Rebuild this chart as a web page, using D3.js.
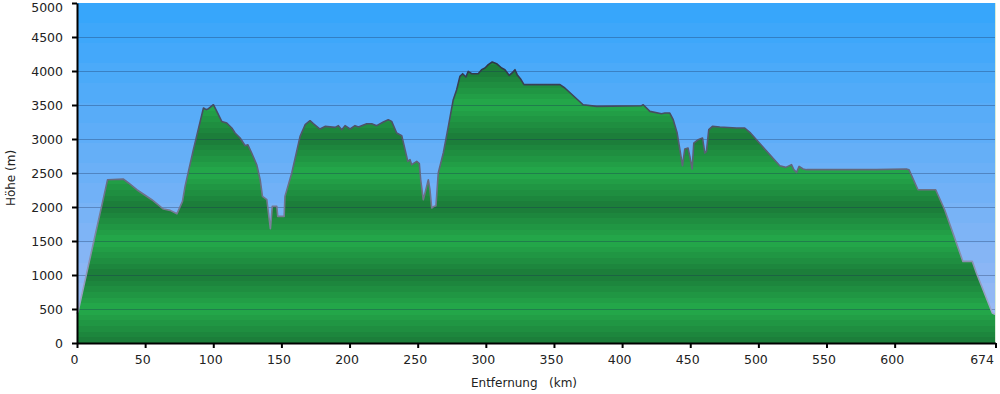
<!DOCTYPE html>
<html>
<head>
<meta charset="utf-8">
<script src="https://cdn.jsdelivr.net/npm/d3@7"></script>
<style>
  body { margin: 0; background: #fff; }
  text { font-family: "DejaVu Sans", Verdana, sans-serif; fill: #222; }
</style>
</head>
<body>
<svg id="chart" width="1000" height="394"></svg>
<script>
// elevation profile: [distance km, height m]
const profile = [
  [0, 430], [1, 480], [22.4, 2400], [34.1, 2410], [37.8, 2353], [43.9, 2254],
  [54.9, 2107], [63.4, 1970], [68.4, 1950], [73.3, 1900], [77.4, 2083], [79.3, 2303],
  [85.4, 2843], [92.8, 3456], [94.7, 3431], [96.5, 3445], [100.1, 3504], [102.6, 3406],
  [106.2, 3259], [109.9, 3235], [113.6, 3162], [116, 3088], [119.7, 3015], [123.4, 2901],
  [125.3, 2916], [128.2, 2794], [131.9, 2622], [134.4, 2401], [136.1, 2156], [139.3, 2107],
  [141.9, 1680], [143.3, 2009], [146.6, 2009], [147.3, 1862], [152, 1862], [152.6, 2156],
  [157.6, 2500], [163.7, 3038], [167.4, 3210], [171, 3269], [173.4, 3225], [178.3, 3147],
  [182, 3185], [189.4, 3171], [191.8, 3196], [194.3, 3137], [196.7, 3196], [200.4, 3147],
  [204, 3196], [206.5, 3176], [212.6, 3225], [216.3, 3225], [219.9, 3196], [224.8, 3250],
  [228.4, 3284], [230.9, 3259], [234.6, 3088], [238.3, 3049], [241.9, 2744], [242.7, 2671],
  [244.4, 2696], [245.6, 2622], [249.3, 2671], [251.2, 2637], [252.2, 2401], [254.1, 2107],
  [255.4, 2206], [257.8, 2401], [259, 2254], [260.3, 1985], [261.9, 2009], [263.4, 2019],
  [265.1, 2500], [268.8, 2794], [272.5, 3185], [276.1, 3578], [278.6, 3725], [281, 3921],
  [283, 3960], [285.4, 3911], [287.1, 3994], [289.6, 3960], [294.4, 3960], [296.9, 4019],
  [299.4, 4044], [301.8, 4093], [304.7, 4132], [307.9, 4107], [311.6, 4044], [314, 4019],
  [317.2, 3935], [319.7, 3980], [321.4, 4019], [323, 3946], [325.5, 3882], [328, 3799],
  [354.4, 3799], [358, 3750], [371.4, 3504], [381.3, 3480], [414.3, 3490], [415.5, 3504],
  [420.4, 3406], [428.9, 3372], [431.4, 3382], [435, 3382], [437.5, 3284], [440.4, 3088],
  [442.4, 2843], [444.3, 2607], [446, 2853], [448.4, 2867], [449.7, 2744], [451.4, 2559],
  [452.6, 2941], [455.8, 2990], [459, 3015], [460.7, 2794], [461.9, 2818], [463.6, 3137],
  [466.3, 3185], [471.7, 3176], [483.9, 3162], [490, 3162], [493.7, 3098], [515.7, 2607],
  [520.1, 2583], [524.3, 2622], [526, 2549], [528, 2509], [529.9, 2597], [532.8, 2559],
  [535.3, 2549], [559.7, 2549], [586.6, 2549], [608.6, 2559], [610.5, 2549], [617.1, 2254],
  [630.1, 2254], [636.7, 1960], [650.1, 1200], [657, 1200], [660, 1029], [671.7, 441],
  [674, 420]
];
const xTicks = [0, 50, 100, 150, 200, 250, 300, 350, 400, 450, 500, 550, 600, 674];
const yTicks = [0, 500, 1000, 1500, 2000, 2500, 3000, 3500, 4000, 4500, 5000];
const xTitle = "Entfernung   (km)";
const yTitle = "Höhe (m)";

const svg = d3.select("#chart");
const plotLeft = 77, plotRight = 995.5, plotTop = 3, plotBottom = 343;

const x = d3.scaleLinear().domain([0, 674]).range([plotLeft, plotRight]);
const y = d3.scaleLinear().domain([0, 5000]).range([plotBottom, plotTop]);

const defs = svg.append("defs");

// stepped gradient helper
function stepped(id, y1, y2, colorAt, steps, repeat) {
  const g = defs.append("linearGradient")
    .attr("id", id)
    .attr("gradientUnits", "userSpaceOnUse")
    .attr("x1", 0).attr("x2", 0)
    .attr("y1", y1).attr("y2", y2);
  if (repeat) g.attr("spreadMethod", "repeat");
  for (let i = 0; i < steps; i++) {
    const c = colorAt((i + 0.5) / steps);
    g.append("stop").attr("offset", i / steps).attr("stop-color", c);
    g.append("stop").attr("offset", (i + 1) / steps).attr("stop-color", c);
  }
}

// sky
const skyColor = d3.interpolateRgb("#34a5fb", "#a2bbf3");
stepped("sky", plotTop, plotBottom, t => skyColor(t), 17, false);

// ground, repeats every 1000 m: dark at 1000s, bright at 500s
const groundColor = d3.interpolateRgb("#1b7a38", "#24aa4b");
stepped("ground", y(1000), y(0), t => groundColor(1 - Math.abs(2 * t - 1)), 12, true);

// outline: darker higher up
const edge = defs.append("linearGradient")
  .attr("id", "edge")
  .attr("gradientUnits", "userSpaceOnUse")
  .attr("x1", 0).attr("x2", 0)
  .attr("y1", y(4200)).attr("y2", y(300));
edge.append("stop").attr("offset", 0).attr("stop-color", "#2c3346");
edge.append("stop").attr("offset", 0.5).attr("stop-color", "#6c7086");
edge.append("stop").attr("offset", 1).attr("stop-color", "#a4acd4");

svg.append("rect")
  .attr("x", plotLeft).attr("y", plotTop)
  .attr("width", plotRight - plotLeft).attr("height", plotBottom - plotTop)
  .attr("fill", "url(#sky)");

const area = d3.area()
  .x(d => x(d[0]))
  .y0(y(0))
  .y1(d => y(d[1]));

svg.append("path")
  .datum(profile)
  .attr("d", area)
  .attr("fill", "url(#ground)");

// grid
svg.append("g")
  .selectAll("line")
  .data(yTicks.filter(v => v > 0 && v < 5000))
  .join("line")
  .attr("x1", plotLeft).attr("x2", plotRight)
  .attr("y1", d => y(d) + 0.5).attr("y2", d => y(d) + 0.5)
  .attr("stroke", "rgba(25,45,85,0.32)")
  .attr("stroke-width", 1);

const line = d3.line()
  .x(d => x(d[0]))
  .y(d => y(d[1]));

svg.append("path")
  .datum(profile)
  .attr("d", line)
  .attr("fill", "none")
  .attr("stroke", "url(#edge)")
  .attr("stroke-width", 1.6)
  .attr("stroke-linejoin", "round");

// right edge
svg.append("line")
  .attr("x1", plotRight).attr("x2", plotRight)
  .attr("y1", plotTop).attr("y2", plotBottom)
  .attr("stroke", "#d8ecd8").attr("stroke-width", 1);

// axes
const yAxis = svg.append("g")
  .attr("transform", `translate(${plotLeft},0)`)
  .call(d3.axisLeft(y).tickValues(yTicks).tickFormat(d3.format("d"))
    .tickSize(5).tickSizeOuter(0).tickPadding(9));

const xAxis = svg.append("g")
  .attr("transform", `translate(0,${plotBottom})`)
  .call(d3.axisBottom(x).tickValues(xTicks).tickFormat(d3.format("d"))
    .tickSize(5).tickSizeOuter(0).tickPadding(7));

[yAxis, xAxis].forEach(ax => {
  ax.select(".domain").attr("stroke", "#000").attr("stroke-width", 2);
  ax.selectAll(".tick line").attr("stroke", "#000").attr("stroke-width", 2);
  ax.selectAll(".tick text")
    .attr("fill", "#222")
    .style("font-size", "12.5px")
    .style("font-family", "'DejaVu Sans', Verdana, sans-serif");
});
xAxis.selectAll(".tick text").attr("dx", -3);

// end labels pulled inside the picture
yAxis.selectAll(".tick text").filter(d => d === 5000).attr("y", 4.5);
xAxis.selectAll(".tick text").filter(d => d === 674)
  .attr("text-anchor", "end").attr("dx", -2);

svg.append("text")
  .attr("transform", "translate(15,178) rotate(-90)")
  .attr("text-anchor", "middle")
  .style("font-size", "12px")
  .text(yTitle);

svg.append("text")
  .attr("x", 524)
  .attr("y", 387)
  .attr("text-anchor", "middle")
  .style("font-size", "12px")
  .style("white-space", "pre")
  .text(xTitle);
</script>
</body>
</html>
